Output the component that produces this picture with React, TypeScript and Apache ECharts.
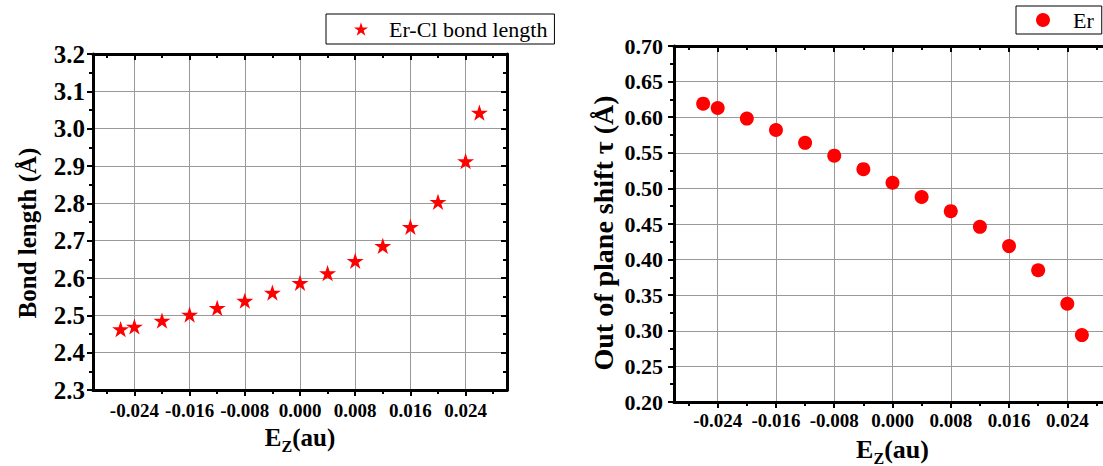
import React, { useEffect, useRef } from 'react';
import * as echarts from 'echarts';

// ---- data ----
const fieldValues = [-0.026, -0.024, -0.020, -0.016, -0.012, -0.008, -0.004, 0.000, 0.004, 0.008, 0.012, 0.016, 0.020, 0.024, 0.026];
const bondLength = [2.463, 2.470, 2.486, 2.502, 2.520, 2.539, 2.561, 2.587, 2.613, 2.646, 2.686, 2.737, 2.804, 2.913, 3.043];
const outOfPlaneShift = [0.619, 0.613, 0.598, 0.582, 0.564, 0.546, 0.527, 0.508, 0.488, 0.468, 0.446, 0.419, 0.385, 0.338, 0.294];
const xMajorTicks = [-0.024, -0.016, -0.008, 0.0, 0.008, 0.016, 0.024];
const xMinorTicks = [-0.028, -0.020, -0.012, -0.004, 0.004, 0.012, 0.020, 0.028];
const bondLegend = 'Er-Cl bond length';
const shiftLegend = 'Er';
const bondTitle = 'Bond length (Å)';
const shiftTitle = 'Out of plane shift τ (Å)';
const fieldTitle = '{a|E}{b|Z}{a|(au)}';

const FONT = "'Liberation Serif', 'Times New Roman', serif";
const STAR = 'path://M0,-50L11.23,-15.45L47.55,-15.45L18.17,5.9L29.39,40.45L0,19.1L-29.39,40.45L-18.17,5.9L-47.55,-15.45L-11.23,-15.45Z';
const BLACK = { color: '#000000', width: 3, opacity: 1 };
const TICK = { color: '#000000', width: 2, opacity: 1 };
const GRIDLINE = { color: '#999999', width: 1 };

function xAxes(gridIndex: number, labelMargin: number, nameGap: number, nameSize: number) {
  const base = { type: 'value', gridIndex, min: -0.03, max: 0.03 };
  const hidden = { axisLine: { show: false }, axisLabel: { show: false }, splitLine: { show: false } };
  return [
    // grid lines only (underneath)
    {
      ...base, position: 'bottom', z: 0,
      axisLine: { show: false },
      axisTick: { show: false, customValues: xMajorTicks },
      axisLabel: { show: false },
      splitLine: { show: true, lineStyle: GRIDLINE },
    },
    // bottom frame, major ticks, labels, title
    {
      ...base, position: 'bottom', z: 5,
      name: fieldTitle, nameLocation: 'middle', nameGap,
      nameTextStyle: {
        rich: {
          a: { fontFamily: FONT, fontWeight: 'bold', fontSize: nameSize, color: '#000', lineHeight: 30, verticalAlign: 'top' },
          b: { fontFamily: FONT, fontWeight: 'bold', fontSize: 16, color: '#000', lineHeight: 12, verticalAlign: 'bottom' },
        },
      },
      axisLine: { show: true, onZero: false, lineStyle: BLACK },
      axisTick: { show: true, inside: false, length: 6, customValues: xMajorTicks, lineStyle: TICK },
      axisLabel: {
        show: true, customValues: xMajorTicks, margin: labelMargin,
        formatter: (v: number) => v.toFixed(3),
        color: '#000', fontFamily: FONT, fontWeight: 'bold', fontSize: 19,
      },
      splitLine: { show: false },
    },
    // bottom minor ticks
    {
      ...base, position: 'bottom', z: 5, ...hidden,
      axisTick: { show: true, inside: false, length: 4, customValues: xMinorTicks, lineStyle: TICK },
    },
    // top frame with inward major ticks
    {
      ...base, position: 'top', z: 5,
      axisLine: { show: true, onZero: false, lineStyle: BLACK },
      axisTick: { show: true, inside: true, length: 6, customValues: xMajorTicks, lineStyle: TICK },
      axisLabel: { show: false },
      splitLine: { show: false },
    },
    // top minor ticks
    {
      ...base, position: 'top', z: 5, ...hidden,
      axisTick: { show: true, inside: true, length: 4, customValues: xMinorTicks, lineStyle: TICK },
    },
  ];
}

function yAxes(gridIndex: number, min: number, max: number, interval: number, decimals: number,
  labelSize: number, labelMargin: number) {
  const base = { type: 'value', gridIndex, min, max, interval };
  return [
    // grid lines only
    {
      ...base, position: 'left', z: 0,
      axisLine: { show: false }, axisTick: { show: false }, axisLabel: { show: false },
      splitLine: { show: true, lineStyle: GRIDLINE },
    },
    // left frame, ticks, labels
    {
      ...base, position: 'left', z: 5,
      axisLine: { show: true, onZero: false, lineStyle: BLACK },
      axisTick: { show: true, inside: false, length: 6, lineStyle: TICK },
      minorTick: { show: true, splitNumber: 2, length: 4, lineStyle: TICK },
      axisLabel: {
        show: true, margin: labelMargin, formatter: (v: number) => v.toFixed(decimals),
        color: '#000', fontFamily: FONT, fontWeight: 'bold', fontSize: labelSize,
      },
      splitLine: { show: false },
    },
    // right frame with inward ticks
    {
      ...base, position: 'right', z: 5,
      axisLine: { show: true, onZero: false, lineStyle: BLACK },
      axisTick: { show: true, inside: true, length: 6, lineStyle: TICK },
      minorTick: { show: true, splitNumber: 2, length: 4, lineStyle: TICK },
      axisLabel: { show: false },
      splitLine: { show: false },
    },
  ];
}

function legendBox(name: string, left: number, top: number, padding: number[], textPad: number) {
  return {
    data: [name], left, top, orient: 'horizontal',
    backgroundColor: '#fff', borderColor: '#000', borderWidth: 1,
    padding, itemWidth: 14, itemHeight: 14, itemGap: 0,
    selectedMode: false,
    textStyle: { fontFamily: FONT, fontSize: 22, color: '#000', padding: [0, 0, 0, textPad] },
  };
}

export default function App() {
  const ref = useRef<HTMLDivElement>(null);
  useEffect(() => {
    if (!ref.current) return;
    const chart = echarts.init(ref.current, null, { renderer: 'svg' });
    chart.setOption({
      animation: false,
      backgroundColor: '#fff',
      grid: [
        { left: 93, top: 54, width: 414, height: 336, outerBoundsMode: 'none', containLabel: false },
        { left: 674, top: 46, width: 437, height: 356, outerBoundsMode: 'none', containLabel: false },
      ],
      xAxis: [...xAxes(0, 11, 34, 25), ...xAxes(1, 9, 34, 26)],
      yAxis: [
        ...yAxes(0, 2.3, 3.2, 0.1, 1, 25, 8),
        ...yAxes(1, 0.2, 0.7, 0.05, 2, 22, 11),
      ],
      legend: [
        legendBox(bondLegend, 326, 14, [4, 7, 4, 28], 16),
        legendBox(shiftLegend, 1016, 6, [3, 8, 3, 20], 18),
      ],
      graphic: [
        {
          type: 'text', x: 27, y: 233, rotation: Math.PI / 2,
          style: { text: bondTitle, fontFamily: FONT, fontWeight: 'bold', fontSize: 25, fill: '#000', align: 'center', verticalAlign: 'middle' },
        },
        {
          type: 'text', x: 603, y: 233, rotation: Math.PI / 2,
          style: { text: shiftTitle, fontFamily: FONT, fontWeight: 'bold', fontSize: 28, fill: '#000', align: 'center', verticalAlign: 'middle' },
        },
      ],
      series: [
        {
          type: 'scatter', name: bondLegend, xAxisIndex: 1, yAxisIndex: 1,
          data: fieldValues.map((x, i) => [x, bondLength[i]]),
          symbol: STAR, symbolSize: 17, symbolKeepAspect: true,
          itemStyle: { color: '#ff0000', opacity: 1 },
          z: 10,
        },
        {
          type: 'scatter', name: shiftLegend, xAxisIndex: 6, yAxisIndex: 4,
          data: fieldValues.map((x, i) => [x, outOfPlaneShift[i]]),
          symbol: 'circle', symbolSize: 14,
          itemStyle: { color: '#ff0000', opacity: 1 },
          z: 10,
        },
      ],
    });
    return () => chart.dispose();
  }, []);
  return (
    <div
      ref={ref}
      style={{ position: 'fixed', left: 0, top: 0, width: 1103, height: 466, background: '#fff' }}
    />
  );
}
